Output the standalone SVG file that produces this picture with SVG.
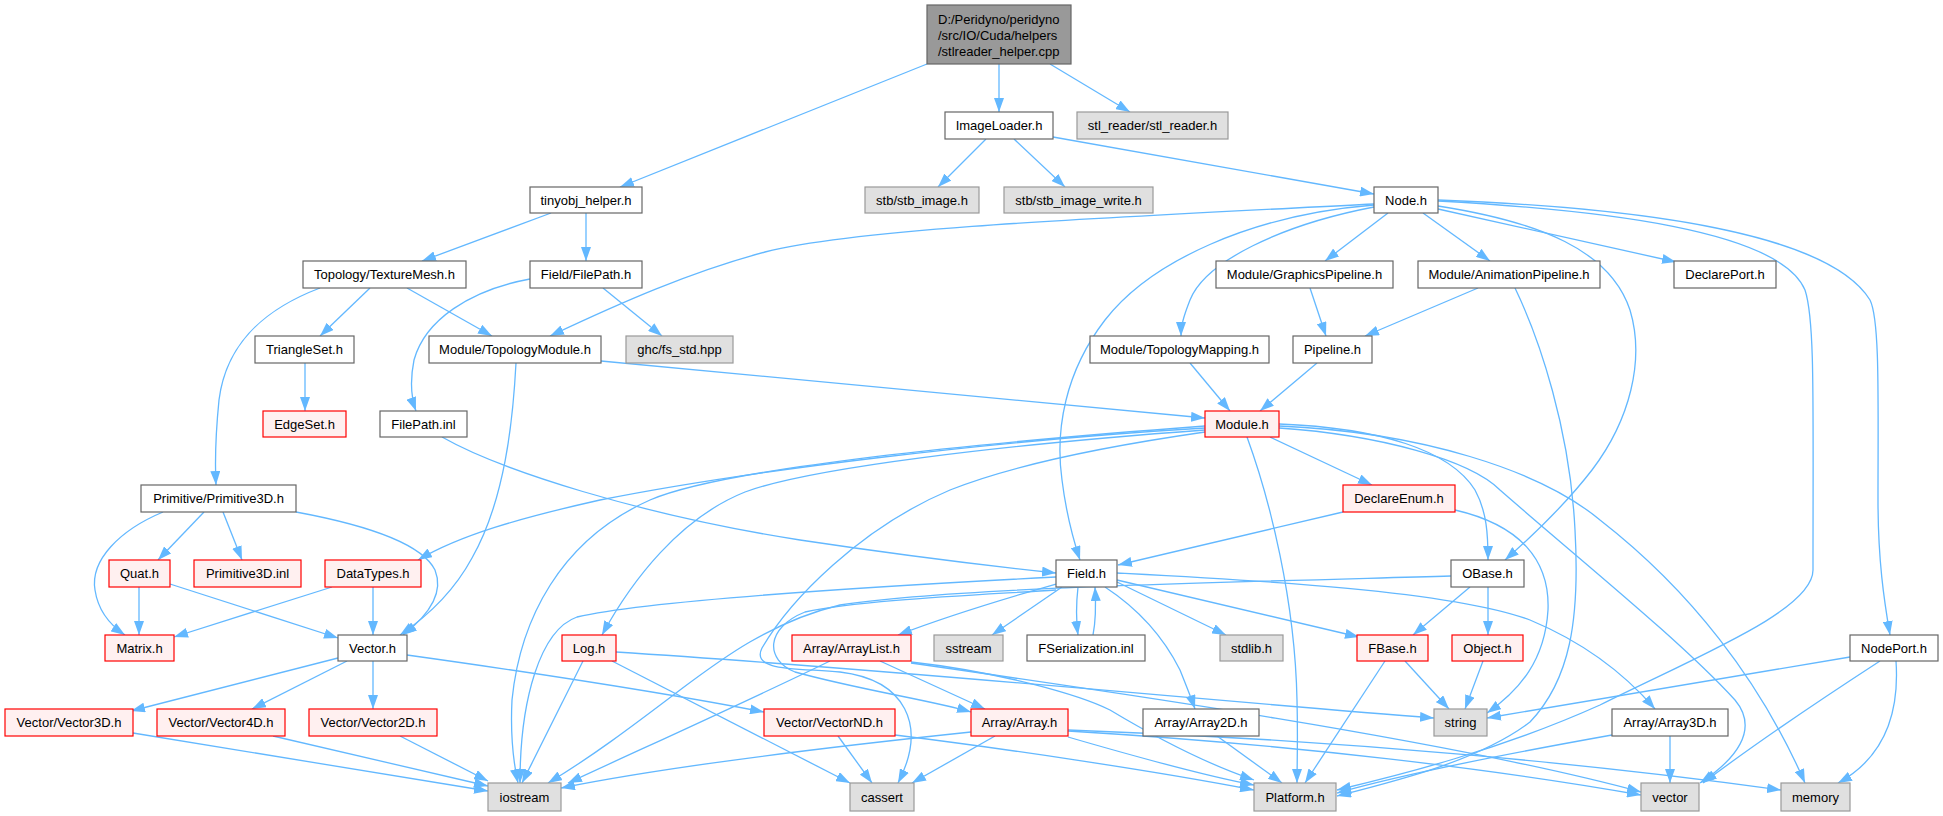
<svg xmlns="http://www.w3.org/2000/svg" width="1943" height="816" viewBox="0 0 1943 816">
<defs>
<marker id="ah" viewBox="0 0 14 10" refX="14" refY="5" markerWidth="14" markerHeight="10" markerUnits="userSpaceOnUse" orient="auto"><path d="M0,0 L14,5 L0,10 z" fill="#63b8ff"/></marker>
</defs>
<style>
.e path{fill:none;stroke:#63b8ff;stroke-width:1.3;marker-end:url(#ah)}
rect{stroke-width:1.2}
.w rect{fill:#fff;stroke:#666}
.g rect{fill:#e0e0e0;stroke:#999}
.r rect{fill:#fff0f0;stroke:#f00}
.root rect{fill:#999;stroke:#666}
text{font-family:"Liberation Sans",Arial,sans-serif;font-size:13px;fill:#000;text-anchor:middle}
.root text{text-anchor:start}
</style>
<rect width="1943" height="816" fill="#fff"/>
<g class="e" id="edges">
<path d="M927,64 L620,187"/>
<path d="M999,64 L999,112"/>
<path d="M1050,64 L1130,112"/>
<path d="M986,139 L938,187"/>
<path d="M1014,139 L1065,187"/>
<path d="M1053,137 L1374,194"/>
<path d="M551,213 L422,261"/>
<path d="M586,213 L586,261"/>
<path d="M370,288 L320,336"/>
<path d="M407,288 L492,336"/>
<path d="M320,288 C262,310 226,345 219,400 C215,440 215,465 216,485"/>
<path d="M603,288 L662,336"/>
<path d="M530,279 C470,290 425,320 414,360 C409,385 412,400 416,411"/>
<path d="M305,363 L305,411"/>
<path d="M601,361 C800,380 1000,400 1205,418"/>
<path d="M516,363 C513,420 505,500 472,558 C452,595 425,618 400,635"/>
<path d="M442,437 C500,470 640,515 800,540 C900,555 990,566 1056,573"/>
<path d="M1374,204 C1100,218 860,228 765,252 C690,272 620,303 550,336"/>
<path d="M1374,205 C1250,215 1150,262 1105,320 C1065,372 1055,430 1062,480 C1067,520 1075,545 1080,560"/>
<path d="M1374,207 C1280,225 1205,262 1190,300 C1183,318 1181,326 1181,336"/>
<path d="M1388,213 L1325,261"/>
<path d="M1423,213 L1490,261"/>
<path d="M1438,209 L1676,262"/>
<path d="M1438,206 C1540,222 1610,250 1630,310 C1645,360 1630,420 1592,470 C1565,505 1530,538 1505,560"/>
<path d="M1438,201 C1600,210 1780,230 1805,290 C1815,320 1813,400 1813,570 C1813,610 1700,655 1600,705 C1500,750 1400,775 1337,790"/>
<path d="M1438,200 C1650,208 1830,235 1870,300 C1880,320 1878,400 1878,500 C1878,560 1884,600 1890,635"/>
<path d="M1478,288 L1365,336"/>
<path d="M1515,288 C1540,340 1570,430 1575,530 C1580,620 1570,680 1530,722 C1480,760 1400,780 1337,796"/>
<path d="M1310,288 L1326,336"/>
<path d="M1190,363 L1230,411"/>
<path d="M1317,363 L1260,411"/>
<path d="M1270,437 L1372,485"/>
<path d="M1279,424 C1380,428 1450,450 1475,490 C1487,512 1488,535 1488,560"/>
<path d="M1247,437 C1270,500 1295,600 1297,700 C1298,740 1297,765 1297,783"/>
<path d="M1205,428 C1000,440 750,470 600,500 C520,518 460,535 418,560"/>
<path d="M1205,430 C1000,445 810,468 745,492 C680,518 632,580 602,635"/>
<path d="M1205,426 C950,445 720,470 650,500 C560,540 520,620 512,700 C510,740 514,765 518,783"/>
<path d="M1205,432 C1080,450 1000,470 950,490 C860,528 790,600 762,648 C750,672 800,668 840,672 C905,680 928,725 898,783"/>
<path d="M1279,428 C1380,435 1470,460 1500,490 C1580,560 1680,640 1735,700 C1760,730 1735,760 1700,783"/>
<path d="M1279,426 C1420,432 1540,470 1600,520 C1690,590 1760,680 1805,783"/>
<path d="M1343,512 L1118,565"/>
<path d="M1455,510 C1520,525 1550,560 1548,610 C1545,660 1520,690 1487,713"/>
<path d="M1078,587 C1076,605 1076,620 1078,635"/>
<path d="M1093,635 C1096,620 1096,605 1095,587"/>
<path d="M1117,582 L1226,635"/>
<path d="M1117,580 L1359,637"/>
<path d="M1105,587 C1140,610 1165,640 1180,670 C1188,690 1192,700 1195,709"/>
<path d="M1117,573 C1250,580 1450,590 1530,620 C1590,645 1630,680 1655,709"/>
<path d="M1062,587 L992,635"/>
<path d="M1056,584 C1000,600 950,615 898,635"/>
<path d="M1056,590 C980,595 860,600 805,612 C765,628 765,660 795,672 C860,690 930,700 971,712"/>
<path d="M1056,577 C900,585 650,600 577,617 C540,630 520,700 520,783"/>
<path d="M1451,576 C1200,583 950,588 840,605 C770,622 720,660 680,690 C630,728 590,758 548,783"/>
<path d="M133,733 L488,791"/>
<path d="M273,736 L488,786"/>
<path d="M400,736 L488,781"/>
<path d="M338,658 L131,711"/>
<path d="M347,661 L252,709"/>
<path d="M373,661 L373,709"/>
<path d="M407,655 C500,668 650,690 764,712"/>
<path d="M163,512 C120,530 90,560 95,590 C98,610 110,625 125,635"/>
<path d="M204,512 L158,560"/>
<path d="M223,512 L242,560"/>
<path d="M296,512 C350,522 420,540 435,570 C445,595 425,618 403,635"/>
<path d="M139,587 L139,635"/>
<path d="M170,584 L338,638"/>
<path d="M332,587 L174,637"/>
<path d="M373,587 L373,635"/>
<path d="M583,661 L522,783"/>
<path d="M612,661 L850,783"/>
<path d="M616,652 C900,670 1200,700 1434,718"/>
<path d="M830,661 C750,700 650,745 568,783"/>
<path d="M880,661 L985,709"/>
<path d="M911,662 C1000,672 1080,695 1110,710 C1160,740 1210,765 1254,780"/>
<path d="M911,663 C1100,690 1450,740 1641,792"/>
<path d="M838,736 L872,783"/>
<path d="M895,735 C1000,748 1150,770 1254,790"/>
<path d="M971,732 C800,750 650,770 561,788"/>
<path d="M995,736 L912,783"/>
<path d="M1068,737 C1130,755 1200,775 1254,785"/>
<path d="M1068,731 C1300,745 1500,770 1641,795"/>
<path d="M1068,730 C1350,740 1600,765 1781,790"/>
<path d="M1217,736 L1282,783"/>
<path d="M1385,661 L1305,783"/>
<path d="M1405,661 L1449,709"/>
<path d="M1488,587 L1488,635"/>
<path d="M1470,587 L1413,635"/>
<path d="M1483,661 L1465,709"/>
<path d="M1850,657 L1487,718"/>
<path d="M1880,661 C1820,700 1760,740 1703,783"/>
<path d="M1896,661 C1900,720 1880,760 1838,783"/>
<path d="M1670,736 L1670,783"/>
<path d="M1612,735 C1500,755 1400,775 1337,793"/>
</g>
<g id="n_root" class="root"><rect x="927" y="5" width="144" height="59"/><text x="938" y="23.5">D:/Peridyno/peridyno</text><text x="938" y="39.5">/src/IO/Cuda/helpers</text><text x="938" y="55.5">/stlreader_helper.cpp</text></g>
<g id="n_imageloader" class="w"><rect x="945" y="112" width="108" height="27"/><text x="999" y="130">ImageLoader.h</text></g>
<g id="n_stlreader" class="g"><rect x="1077" y="112" width="151" height="27"/><text x="1152.5" y="130">stl_reader/stl_reader.h</text></g>
<g id="n_tinyobj" class="w"><rect x="530" y="187" width="112" height="26"/><text x="586" y="204.5">tinyobj_helper.h</text></g>
<g id="n_stbimage" class="g"><rect x="865" y="187" width="114" height="26"/><text x="922" y="204.5">stb/stb_image.h</text></g>
<g id="n_stbimagewrite" class="g"><rect x="1004" y="187" width="149" height="26"/><text x="1078.5" y="204.5">stb/stb_image_write.h</text></g>
<g id="n_node" class="w"><rect x="1374" y="187" width="64" height="26"/><text x="1406" y="204.5">Node.h</text></g>
<g id="n_texturemesh" class="w"><rect x="303" y="261" width="163" height="27"/><text x="384.5" y="279">Topology/TextureMesh.h</text></g>
<g id="n_filepath" class="w"><rect x="530" y="261" width="112" height="27"/><text x="586" y="279">Field/FilePath.h</text></g>
<g id="n_graphicspipeline" class="w"><rect x="1216" y="261" width="177" height="27"/><text x="1304.5" y="279">Module/GraphicsPipeline.h</text></g>
<g id="n_animationpipeline" class="w"><rect x="1418" y="261" width="182" height="27"/><text x="1509" y="279">Module/AnimationPipeline.h</text></g>
<g id="n_declareport" class="w"><rect x="1674" y="261" width="102" height="27"/><text x="1725" y="279">DeclarePort.h</text></g>
<g id="n_triangleset" class="w"><rect x="255" y="336" width="99" height="27"/><text x="304.5" y="354">TriangleSet.h</text></g>
<g id="n_topologymodule" class="w"><rect x="429" y="336" width="172" height="27"/><text x="515" y="354">Module/TopologyModule.h</text></g>
<g id="n_fsstd" class="g"><rect x="626" y="336" width="107" height="27"/><text x="679.5" y="354">ghc/fs_std.hpp</text></g>
<g id="n_topologymapping" class="w"><rect x="1090" y="336" width="179" height="27"/><text x="1179.5" y="354">Module/TopologyMapping.h</text></g>
<g id="n_pipeline" class="w"><rect x="1293" y="336" width="79" height="27"/><text x="1332.5" y="354">Pipeline.h</text></g>
<g id="n_edgeset" class="r"><rect x="263" y="411" width="83" height="26"/><text x="304.5" y="428.5">EdgeSet.h</text></g>
<g id="n_filepathinl" class="w"><rect x="380" y="411" width="87" height="26"/><text x="423.5" y="428.5">FilePath.inl</text></g>
<g id="n_module" class="r"><rect x="1205" y="411" width="74" height="26"/><text x="1242" y="428.5">Module.h</text></g>
<g id="n_primitive3d" class="w"><rect x="141" y="485" width="155" height="27"/><text x="218.5" y="503">Primitive/Primitive3D.h</text></g>
<g id="n_declareenum" class="r"><rect x="1343" y="485" width="112" height="27"/><text x="1399" y="503">DeclareEnum.h</text></g>
<g id="n_quat" class="r"><rect x="109" y="560" width="61" height="27"/><text x="139.5" y="578">Quat.h</text></g>
<g id="n_primitive3dinl" class="r"><rect x="194" y="560" width="107" height="27"/><text x="247.5" y="578">Primitive3D.inl</text></g>
<g id="n_datatypes" class="r"><rect x="325" y="560" width="96" height="27"/><text x="373" y="578">DataTypes.h</text></g>
<g id="n_field" class="w"><rect x="1056" y="560" width="61" height="27"/><text x="1086.5" y="578">Field.h</text></g>
<g id="n_obase" class="w"><rect x="1451" y="560" width="73" height="27"/><text x="1487.5" y="578">OBase.h</text></g>
<g id="n_matrix" class="r"><rect x="105" y="635" width="69" height="26"/><text x="139.5" y="652.5">Matrix.h</text></g>
<g id="n_vector_h" class="w"><rect x="338" y="635" width="69" height="26"/><text x="372.5" y="652.5">Vector.h</text></g>
<g id="n_log" class="r"><rect x="562" y="635" width="54" height="26"/><text x="589" y="652.5">Log.h</text></g>
<g id="n_arraylist" class="r"><rect x="792" y="635" width="119" height="26"/><text x="851.5" y="652.5">Array/ArrayList.h</text></g>
<g id="n_sstream" class="g"><rect x="934" y="635" width="69" height="26"/><text x="968.5" y="652.5">sstream</text></g>
<g id="n_fserialization" class="w"><rect x="1027" y="635" width="118" height="26"/><text x="1086" y="652.5">FSerialization.inl</text></g>
<g id="n_stdlib" class="g"><rect x="1220" y="635" width="63" height="26"/><text x="1251.5" y="652.5">stdlib.h</text></g>
<g id="n_fbase" class="r"><rect x="1357" y="635" width="71" height="26"/><text x="1392.5" y="652.5">FBase.h</text></g>
<g id="n_object" class="r"><rect x="1452" y="635" width="71" height="26"/><text x="1487.5" y="652.5">Object.h</text></g>
<g id="n_nodeport" class="w"><rect x="1850" y="635" width="88" height="26"/><text x="1894" y="652.5">NodePort.h</text></g>
<g id="n_vector3d" class="r"><rect x="5" y="709" width="128" height="27"/><text x="69" y="727">Vector/Vector3D.h</text></g>
<g id="n_vector4d" class="r"><rect x="157" y="709" width="128" height="27"/><text x="221" y="727">Vector/Vector4D.h</text></g>
<g id="n_vector2d" class="r"><rect x="309" y="709" width="128" height="27"/><text x="373" y="727">Vector/Vector2D.h</text></g>
<g id="n_vectornd" class="r"><rect x="764" y="709" width="131" height="27"/><text x="829.5" y="727">Vector/VectorND.h</text></g>
<g id="n_array" class="r"><rect x="971" y="709" width="97" height="27"/><text x="1019.5" y="727">Array/Array.h</text></g>
<g id="n_array2d" class="w"><rect x="1143" y="709" width="116" height="27"/><text x="1201" y="727">Array/Array2D.h</text></g>
<g id="n_string" class="g"><rect x="1434" y="709" width="53" height="27"/><text x="1460.5" y="727">string</text></g>
<g id="n_array3d" class="w"><rect x="1612" y="709" width="116" height="27"/><text x="1670" y="727">Array/Array3D.h</text></g>
<g id="n_iostream" class="g"><rect x="488" y="783" width="73" height="28"/><text x="524.5" y="801.5">iostream</text></g>
<g id="n_cassert" class="g"><rect x="850" y="783" width="64" height="28"/><text x="882" y="801.5">cassert</text></g>
<g id="n_platform" class="g"><rect x="1254" y="783" width="82" height="28"/><text x="1295" y="801.5">Platform.h</text></g>
<g id="n_vector" class="g"><rect x="1641" y="783" width="58" height="28"/><text x="1670" y="801.5">vector</text></g>
<g id="n_memory" class="g"><rect x="1781" y="783" width="69" height="28"/><text x="1815.5" y="801.5">memory</text></g>
</svg>
